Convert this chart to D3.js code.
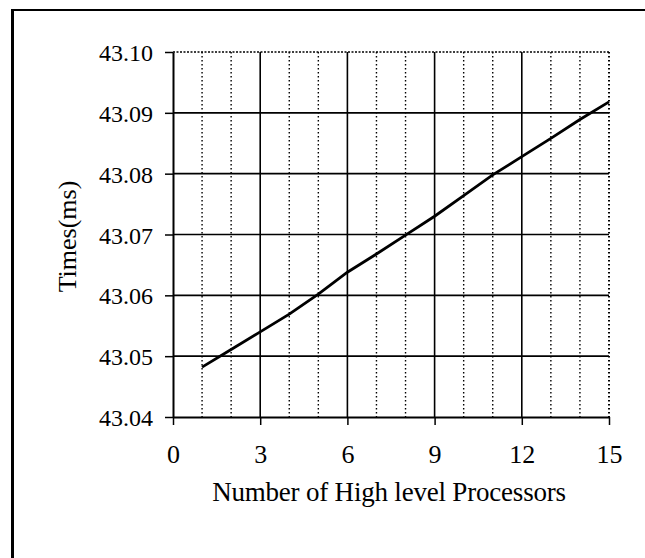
<!DOCTYPE html>
<html>
<head>
<meta charset="utf-8">
<script src="https://cdn.jsdelivr.net/npm/d3@7"></script>
<style>
  body { margin: 0; background: #fff; }
  svg text { font-family: "Liberation Serif", "DejaVu Serif", serif; fill: #000; }
</style>
</head>
<body>
<svg id="chart" width="645" height="558"></svg>
<script>
// === data === //
var processors = [1, 2, 3, 4, 5, 6, 7, 8, 9, 10, 11, 12, 13, 14, 15]
var times = [43.0482, 43.0511, 43.0540, 43.0569, 43.0602, 43.0638, 43.0668, 43.0699,
  43.0730, 43.0764, 43.0798, 43.0828, 43.0858, 43.0889, 43.0918]
var xTicks = [0, 3, 6, 9, 12, 15]
var yTicks = [43.04, 43.05, 43.06, 43.07, 43.08, 43.09, 43.10]
var xLabel = "Number of High level Processors"
var yLabel = "Times(ms)"

// === layout === //
// (window.top is read-only, so no "top" here)
var plotLeft = 173, plotRight = 609, plotTop = 52, plotBottom = 417

var svg = d3.select("#chart")

// outer frame (left + top only)
svg.append("line").attr("x1", 12.5).attr("x2", 12.5).attr("y1", 9).attr("y2", 558)
  .attr("stroke", "#000").attr("stroke-width", 3)
svg.append("line").attr("x1", 11).attr("x2", 645).attr("y1", 10).attr("y2", 10)
  .attr("stroke", "#000").attr("stroke-width", 2)

var x = d3.scaleLinear().domain([0, 15]).range([plotLeft, plotRight])
var y = d3.scaleLinear().domain([43.04, 43.10]).range([plotBottom, plotTop])

var g = svg.append("g")

// minor vertical grid (dotted)
var minor = d3.range(1, 16).filter(function(d) { return d % 3 != 0 || d == 15 })
g.selectAll(".vminor").data(minor).enter().append("line")
  .attr("x1", function(d) { return x(d) }).attr("x2", function(d) { return x(d) })
  .attr("y1", plotTop).attr("y2", plotBottom)
  .attr("stroke", "#000").attr("stroke-width", function(d) { return d == 15 ? 2 : 1.4 })
  .attr("stroke-dasharray", "1.5,2.5")

// major vertical grid (solid)
g.selectAll(".vmajor").data([3, 6, 9, 12]).enter().append("line")
  .attr("x1", function(d) { return x(d) }).attr("x2", function(d) { return x(d) })
  .attr("y1", plotTop).attr("y2", plotBottom)
  .attr("stroke", "#000").attr("stroke-width", 1.6)

// horizontal grid
g.selectAll(".hgrid").data(yTicks.slice(1)).enter().append("line")
  .attr("x1", plotLeft).attr("x2", plotRight)
  .attr("y1", function(d) { return y(d) }).attr("y2", function(d) { return y(d) })
  .attr("stroke", "#000").attr("stroke-width", function(d) { return d == 43.10 ? 1.6 : 1.6 })
  .attr("stroke-dasharray", function(d) { return d == 43.10 ? "2,1.5" : null })

// axes
var yAxis = d3.axisLeft(y).tickValues(yTicks).tickFormat(d3.format(".2f")).tickSizeInner(8).tickSizeOuter(0)
var xAxis = d3.axisBottom(x).tickValues(xTicks).tickFormat(d3.format("d")).tickSizeInner(8).tickSizeOuter(0)

var ya = svg.append("g").attr("transform", "translate(" + plotLeft + ",0)").call(yAxis)
var xa = svg.append("g").attr("transform", "translate(0," + plotBottom + ")").call(xAxis)

ya.select(".domain").attr("stroke", "#000").attr("stroke-width", 2)
xa.select(".domain").attr("stroke", "#000").attr("stroke-width", 1.8)
ya.selectAll(".tick line").attr("stroke", "#000").attr("stroke-width", 1.5)
xa.selectAll(".tick line").attr("stroke", "#000").attr("stroke-width", 1.5)

ya.selectAll(".tick text")
  .attr("x", -20).attr("dy", "0.36em")
  .style("font-family", "Liberation Serif").style("font-size", "24px")
xa.selectAll(".tick text")
  .attr("y", 23).attr("dy", "0.9em")
  .style("font-family", "Liberation Serif").style("font-size", "26px")

// axis titles
svg.append("text")
  .attr("x", (plotLeft + plotRight) / 2 - 2).attr("y", 501)
  .attr("text-anchor", "middle")
  .style("font-size", "27px")
  .style("letter-spacing", "-0.2px")
  .text(xLabel)

svg.append("text")
  .attr("transform", "translate(76," + ((plotTop + plotBottom) / 2 + 2) + ") rotate(-90)")
  .attr("text-anchor", "middle")
  .style("font-size", "26px")
  .text(yLabel)

// data line
var line = d3.line()
  .x(function(d, i) { return x(processors[i]) })
  .y(function(d) { return y(d) })

g.append("path").datum(times)
  .attr("d", line)
  .attr("fill", "none")
  .attr("stroke", "#000")
  .attr("stroke-width", 2.8)
</script>
</body>
</html>
